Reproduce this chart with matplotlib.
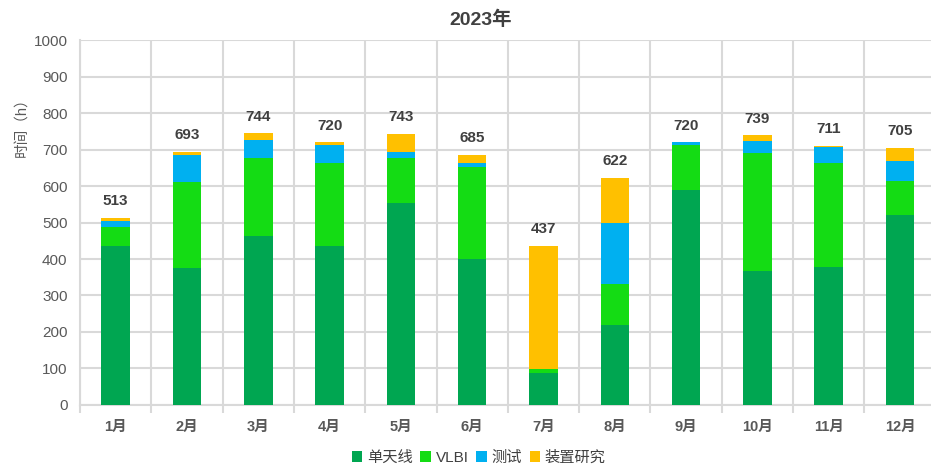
import matplotlib.pyplot as plt
import numpy as np

plt.rcParams['font.family'] = ['Liberation Sans', 'Noto Sans CJK SC', 'DejaVu Sans']

# monthly hours per category
months = ['1月', '2月', '3月', '4月', '5月', '6月', '7月', '8月', '9月', '10月', '11月', '12月']
single_dish = [436, 375, 463, 436, 553, 400, 87, 219, 589, 368, 377, 521]
vlbi = [52, 237, 213, 228, 123, 252, 11, 112, 123, 323, 287, 94]
testing = [17, 73, 50, 48, 18, 10, 0, 169, 8, 33, 42, 54]
research = [8, 8, 18, 8, 49, 23, 339, 122, 0, 15, 5, 36]
totals = [513, 693, 744, 720, 743, 685, 437, 622, 720, 739, 711, 705]

series = [
    ('单天线', single_dish, '#00A651'),
    ('VLBI', vlbi, '#14DC14'),
    ('测试', testing, '#00B0F0'),
    ('装置研究', research, '#FFC000'),
]

fig = plt.figure(figsize=(9.31, 4.66), dpi=100)
ax = fig.add_axes([0.086, 0.131, 0.919, 0.783])

x = np.arange(len(months))
bottom = np.zeros(len(months))
for name, vals, color in series:
    ax.bar(x, vals, width=0.4, bottom=bottom, color=color, label=name, zorder=3)
    bottom += np.array(vals)

for xi, t in zip(x, totals):
    ax.annotate(str(t), (xi, t), xytext=(0, 7), textcoords='offset points',
                ha='center', va='bottom', fontsize=11, fontweight='bold',
                color='#404040')

ax.set_xlim(-0.5, len(months) - 0.5)
ax.set_ylim(0, 1000)
ax.set_yticks(np.arange(0, 1001, 100))

# boundaries between months carry the vertical grid, labels sit at centres
ax.set_xticks(np.arange(-0.5, len(months), 1.0))
ax.set_xticklabels([])
ax.set_xticks(x, minor=True)
ax.set_xticklabels(months, minor=True, fontweight='bold')
ax.tick_params(axis='x', which='major', length=6, width=1.5, color='#d9d9d9')
ax.tick_params(axis='x', which='minor', length=0, pad=11, labelsize=10.5, labelcolor='#595959')
ax.tick_params(axis='y', length=0, pad=9, labelsize=11, labelcolor='#595959')

ax.grid(True, which='major', color='#d9d9d9', linewidth=1.5, zorder=0)
for side in ['top', 'right']:
    ax.spines[side].set_visible(False)
for side in ['left', 'bottom']:
    ax.spines[side].set_color('#d9d9d9')
    ax.spines[side].set_linewidth(1.5)

ax.set_ylabel('时间（h）', fontsize=10.5, color='#595959')
ax.yaxis.set_label_coords(-0.059, 0.77)
fig.text(481 / 931, 1 - 20 / 466, '2023年', ha='center', va='center',
         fontsize=14, fontweight='bold', color='#404040')

ax.legend(loc='center', bbox_to_anchor=(0.466, -0.145), ncol=4, frameon=False,
          fontsize=11, handlelength=0.7, handleheight=0.7, handletextpad=0.3,
          columnspacing=0.5, labelcolor='#404040')

fig.savefig('out.png', dpi=100)
